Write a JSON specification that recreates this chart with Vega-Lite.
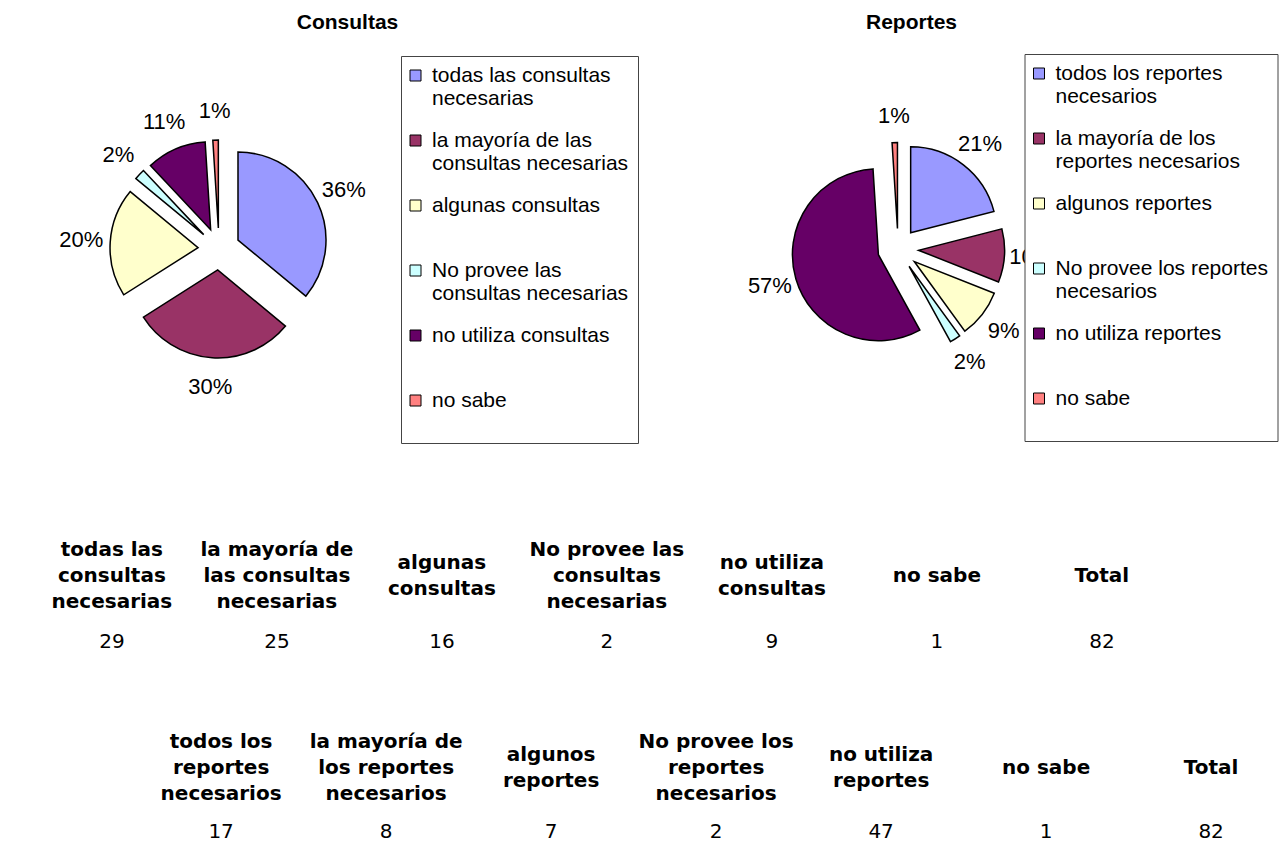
{
  "$schema": "https://vega.github.io/schema/vega-lite/v6.json",
  "background": "white",
  "padding": {"left": 0, "top": 11, "right": 0, "bottom": 0},
  "config": {
    "view": {"stroke": null},
    "font": "Liberation Sans",
    "title": {"font": "Liberation Sans", "fontSize": 21, "fontWeight": "bold", "color": "black", "anchor": "middle", "baseline": "alphabetic", "offset": 21},
    "legend": {
      "title": null,
      "orient": "none",
      "direction": "vertical",
      "fillColor": "white",
      "strokeColor": "#444444",
      "padding": 9,
      "symbolType": "square",
      "symbolSize": 121,
      "symbolStrokeColor": "black",
      "symbolStrokeWidth": 1,
      "symbolOffset": -5,
      "labelFont": "Liberation Sans",
      "labelFontSize": 21,
      "labelColor": "black",
      "labelLimit": 400,
      "labelOffset": 6,
      "rowPadding": 20,
      "zindex": 1
    }
  },
  "datasets": {
    "consultas": [
      {"orden": 1, "categoria": "todas las consultas necesarias", "encabezado": "todas las\nconsultas\nnecesarias", "n": 29, "pct": 36},
      {"orden": 2, "categoria": "la mayoría de las consultas necesarias", "encabezado": "la mayoría de\nlas consultas\nnecesarias", "n": 25, "pct": 30},
      {"orden": 3, "categoria": "algunas consultas", "encabezado": "algunas\nconsultas", "n": 16, "pct": 20},
      {"orden": 4, "categoria": "No provee las consultas necesarias", "encabezado": "No provee las\nconsultas\nnecesarias", "n": 2, "pct": 2},
      {"orden": 5, "categoria": "no utiliza consultas", "encabezado": "no utiliza\nconsultas", "n": 9, "pct": 11},
      {"orden": 6, "categoria": "no sabe", "encabezado": "no sabe", "n": 1, "pct": 1},
      {"orden": 7, "categoria": "Total", "encabezado": "Total", "n": 82, "pct": null}
    ],
    "reportes": [
      {"orden": 1, "categoria": "todos los reportes necesarios", "encabezado": "todos los\nreportes\nnecesarios", "n": 17, "pct": 21},
      {"orden": 2, "categoria": "la mayoría de los reportes necesarios", "encabezado": "la mayoría de\nlos reportes\nnecesarios", "n": 8, "pct": 10},
      {"orden": 3, "categoria": "algunos reportes", "encabezado": "algunos\nreportes", "n": 7, "pct": 9},
      {"orden": 4, "categoria": "No provee los reportes necesarios", "encabezado": "No provee los\nreportes\nnecesarios", "n": 2, "pct": 2},
      {"orden": 5, "categoria": "no utiliza reportes", "encabezado": "no utiliza\nreportes", "n": 47, "pct": 57},
      {"orden": 6, "categoria": "no sabe", "encabezado": "no sabe", "n": 1, "pct": 1},
      {"orden": 7, "categoria": "Total", "encabezado": "Total", "n": 82, "pct": null}
    ]
  },
  "vconcat": [
    {
      "hconcat": [
        {
          "width": 438,
          "height": 384,
          "title": {"text": "Consultas", "dx": 128.5},
          "data": {"name": "consultas"},
          "transform": [
            {"filter": "isValid(datum.pct)"},
            {"stack": "pct", "groupby": [], "sort": [{"field": "orden", "order": "ascending"}], "offset": "normalize", "as": ["p0", "p1"]},
            {"calculate": "(datum.p0 + datum.p1) / 2", "as": "pm"},
            {"calculate": "sin(2 * PI * datum.pm)", "as": "ox"},
            {"calculate": "cos(2 * PI * datum.pm)", "as": "oy"},
            {"calculate": "datum.pct + '%'", "as": "etiqueta"}
          ],
          "encoding": {
            "x": {"field": "ox", "type": "quantitative", "scale": {"domain": [-10.43, 10.43], "zero": false, "nice": false}, "axis": null},
            "y": {"field": "oy", "type": "quantitative", "scale": {"domain": [-9.0, 9.286], "zero": false, "nice": false}, "axis": null}
          },
          "layer": [
            {
              "mark": {"type": "arc", "outerRadius": 88, "stroke": "black", "strokeWidth": 1.5},
              "encoding": {
                "theta": {"field": "p0", "type": "quantitative", "scale": {"domain": [0, 1]}},
                "theta2": {"field": "p1"},
                "color": {
                  "field": "categoria", "type": "nominal",
                  "sort": {"field": "orden", "op": "min"},
                  "scale": {"range": ["#9999FF", "#993366", "#FFFFCC", "#CCFFFF", "#660066", "#FF8080"]},
                  "legend": {
                    "legendX": 401, "legendY": 2,
                    "labelExpr": "length(datum.label) > 22 ? [substring(datum.label, 0, lastindexof(substring(datum.label, 0, 23), ' ')), substring(datum.label, lastindexof(substring(datum.label, 0, 23), ' ') + 1)] : [datum.label, ' ']"
                  }
                }
              }
            },
            {
              "mark": {"type": "text", "radius": 117, "font": "Liberation Sans", "fontSize": 22, "color": "black"},
              "encoding": {
                "theta": {"field": "pm", "type": "quantitative", "stack": null, "scale": {"domain": [0, 1]}},
                "text": {"field": "etiqueta"}
              }
            }
          ]
        },
        {
          "width": 290,
          "height": 384,
          "title": {"text": "Reportes", "dx": 24},
          "data": {"name": "reportes"},
          "transform": [
            {"filter": "isValid(datum.pct)"},
            {"stack": "pct", "groupby": [], "sort": [{"field": "orden", "order": "ascending"}], "offset": "normalize", "as": ["p0", "p1"]},
            {"calculate": "(datum.p0 + datum.p1) / 2", "as": "pm"},
            {"calculate": "sin(2 * PI * datum.pm)", "as": "ox"},
            {"calculate": "cos(2 * PI * datum.pm)", "as": "oy"},
            {"calculate": "datum.pct + '%'", "as": "etiqueta"}
          ],
          "encoding": {
            "x": {"field": "ox", "type": "quantitative", "scale": {"domain": [-7.59, 6.556], "zero": false, "nice": false}, "axis": null},
            "y": {"field": "oy", "type": "quantitative", "scale": {"domain": [-9.22, 9.512], "zero": false, "nice": false}, "axis": null}
          },
          "layer": [
            {
              "mark": {"type": "arc", "outerRadius": 86, "stroke": "black", "strokeWidth": 1.5},
              "encoding": {
                "theta": {"field": "p0", "type": "quantitative", "scale": {"domain": [0, 1]}},
                "theta2": {"field": "p1"},
                "color": {
                  "field": "categoria", "type": "nominal",
                  "sort": {"field": "orden", "op": "min"},
                  "scale": {"range": ["#9999FF", "#993366", "#FFFFCC", "#CCFFFF", "#660066", "#FF8080"]},
                  "legend": {
                    "legendX": 282, "legendY": 0,
                    "labelExpr": "length(datum.label) > 22 ? [substring(datum.label, 0, lastindexof(substring(datum.label, 0, 23), ' ')), substring(datum.label, lastindexof(substring(datum.label, 0, 23), ' ') + 1)] : [datum.label, ' ']"
                  }
                }
              }
            },
            {
              "mark": {"type": "text", "radius": 113, "font": "Liberation Sans", "fontSize": 22, "color": "black"},
              "encoding": {
                "theta": {"field": "pm", "type": "quantitative", "stack": null, "scale": {"domain": [0, 1]}},
                "text": {"field": "etiqueta"}
              }
            }
          ]
        }
      ],
      "spacing": 103.5,
      "resolve": {"scale": {"color": "independent", "x": "independent", "y": "independent", "theta": "independent"}, "legend": {"color": "independent"}}
    },
    {
      "width": 1286,
      "height": 198,
      "data": {"name": "consultas"},
      "transform": [
        {"calculate": "length(split(datum.encabezado, '\\n'))", "as": "lineas"}
      ],
      "encoding": {
        "x": {"field": "encabezado", "type": "nominal", "sort": {"field": "orden", "op": "min"}, "axis": null, "scale": {"type": "point", "padding": 0.897, "align": 0.378}}
      },
      "layer": [
        {
          "mark": {"type": "text", "font": "DejaVu Sans", "fontSize": 20, "fontWeight": "bold", "lineBreak": "\n", "lineHeight": 26, "baseline": "middle", "color": "black"},
          "encoding": {
            "y": {"datum": "encabezado", "type": "nominal", "axis": null, "scale": {"type": "point", "domain": ["encabezado", "valor"], "padding": 1, "align": 0.818}},
            "yOffset": {"field": "lineas", "type": "quantitative", "scale": {"domain": [1, 3], "range": [0, -26]}},
            "text": {"field": "encabezado"}
          }
        },
        {
          "mark": {"type": "text", "font": "DejaVu Sans", "fontSize": 20, "baseline": "middle", "color": "black"},
          "encoding": {
            "y": {"datum": "valor", "type": "nominal"},
            "text": {"field": "n", "type": "quantitative"}
          }
        }
      ]
    },
    {
      "width": 1286,
      "height": 155,
      "data": {"name": "reportes"},
      "transform": [
        {"calculate": "length(split(datum.encabezado, '\\n'))", "as": "lineas"}
      ],
      "encoding": {
        "x": {"field": "encabezado", "type": "nominal", "sort": {"field": "orden", "op": "min"}, "axis": null, "scale": {"type": "point", "padding": 0.897, "align": 0.747}}
      },
      "layer": [
        {
          "mark": {"type": "text", "font": "DejaVu Sans", "fontSize": 20, "fontWeight": "bold", "lineBreak": "\n", "lineHeight": 26, "baseline": "middle", "color": "black"},
          "encoding": {
            "y": {"datum": "encabezado", "type": "nominal", "axis": null, "scale": {"type": "point", "domain": ["encabezado", "valor"], "padding": 0.711, "align": 0.857}},
            "yOffset": {"field": "lineas", "type": "quantitative", "scale": {"domain": [1, 3], "range": [0, -26]}},
            "text": {"field": "encabezado"}
          }
        },
        {
          "mark": {"type": "text", "font": "DejaVu Sans", "fontSize": 20, "baseline": "middle", "color": "black"},
          "encoding": {
            "y": {"datum": "valor", "type": "nominal"},
            "text": {"field": "n", "type": "quantitative"}
          }
        }
      ]
    }
  ],
  "spacing": 24
}
